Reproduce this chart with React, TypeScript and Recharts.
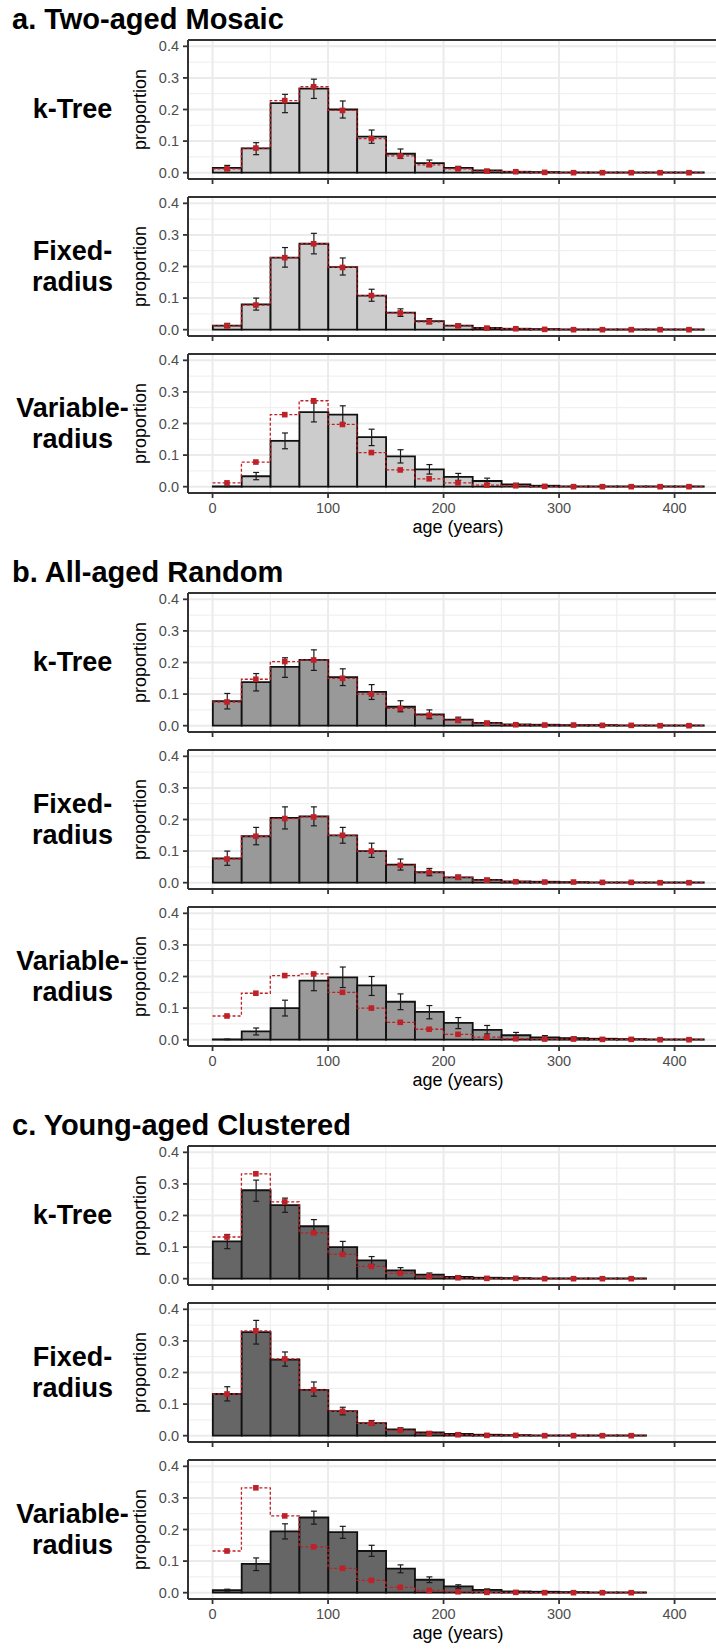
import React from 'react';
import { ComposedChart, Bar, Line, XAxis, YAxis, CartesianGrid, ErrorBar } from 'recharts';

// 25-year age bins
const centresFull = [12.5, 37.5, 62.5, 87.5, 112.5, 137.5, 162.5, 187.5, 212.5, 237.5, 262.5, 287.5, 312.5, 337.5, 362.5, 387.5, 412.5];
const edgesFull = [0, 25, 50, 75, 100, 125, 150, 175, 200, 225, 250, 275, 300, 325, 350, 375, 400, 425];
const centresYoung = [12.5, 37.5, 62.5, 87.5, 112.5, 137.5, 162.5, 187.5, 212.5, 237.5, 262.5, 287.5, 312.5, 337.5, 362.5];
const edgesYoung = [0, 25, 50, 75, 100, 125, 150, 175, 200, 225, 250, 275, 300, 325, 350, 375];

const xTicks = [0, 100, 200, 300, 400];
const xMinor = [50, 150, 250, 350];
const yTicks = [0, 0.1, 0.2, 0.3, 0.4];
const yMinor = [0.05, 0.15, 0.25, 0.35];

const groupTitles = ['a. Two-aged Mosaic', 'b. All-aged Random', 'c. Young-aged Clustered'];
const methodLabels = [['k-Tree'], ['Fixed-', 'radius'], ['Variable-', 'radius']];
const groupFills = ['#CCCCCC', '#999999', '#666666'];

// true stand distributions (red)
const trueTwoAged = [0.012, 0.078, 0.228, 0.272, 0.197, 0.108, 0.053, 0.025, 0.012, 0.005, 0.003, 0.001, 0, 0, 0, 0, 0];
const trueAllAged = [0.075, 0.147, 0.203, 0.208, 0.15, 0.1, 0.055, 0.033, 0.017, 0.008, 0.003, 0.002, 0.002, 0.001, 0.001, 0, 0];
const trueYoung = [0.132, 0.332, 0.243, 0.145, 0.077, 0.039, 0.017, 0.007, 0.003, 0.001, 0.001, 0, 0, 0, 0];

// two-aged mosaic
const twoKTree = [0.015, 0.077, 0.22, 0.266, 0.2, 0.114, 0.06, 0.03, 0.015, 0.007, 0.003, 0.002, 0.001, 0.001, 0.001, 0.001, 0.001];
const twoKTreeLo = [0.007, 0.057, 0.19, 0.235, 0.173, 0.093, 0.045, 0.02, 0.01, 0.004, 0.001, 0.001, 0, 0, 0, 0, 0];
const twoKTreeHi = [0.023, 0.095, 0.248, 0.296, 0.227, 0.135, 0.075, 0.04, 0.02, 0.01, 0.005, 0.003, 0.002, 0.002, 0.002, 0.002, 0.002];
const twoFixed = [0.013, 0.08, 0.228, 0.272, 0.198, 0.108, 0.054, 0.027, 0.013, 0.006, 0.003, 0.002, 0.001, 0.001, 0.001, 0.001, 0.001];
const twoFixedLo = [0.007, 0.062, 0.198, 0.24, 0.173, 0.09, 0.042, 0.019, 0.008, 0.003, 0.001, 0.001, 0, 0, 0, 0, 0];
const twoFixedHi = [0.02, 0.1, 0.26, 0.305, 0.227, 0.128, 0.066, 0.035, 0.018, 0.009, 0.005, 0.003, 0.002, 0.002, 0.002, 0.002, 0.002];
const twoVariable = [0.001, 0.033, 0.145, 0.236, 0.228, 0.157, 0.096, 0.055, 0.031, 0.018, 0.007, 0.003, 0.001, 0.001, 0.001, 0.001, 0.001];
const twoVariableLo = [0, 0.022, 0.12, 0.205, 0.2, 0.13, 0.075, 0.04, 0.02, 0.01, 0.003, 0.001, 0, 0, 0, 0, 0];
const twoVariableHi = [0.002, 0.045, 0.17, 0.265, 0.256, 0.182, 0.117, 0.07, 0.042, 0.027, 0.011, 0.005, 0.002, 0.002, 0.002, 0.002, 0.002];

// all-aged random
const allKTree = [0.078, 0.138, 0.186, 0.208, 0.154, 0.107, 0.06, 0.036, 0.019, 0.009, 0.004, 0.003, 0.002, 0.002, 0.001, 0.001, 0.001];
const allKTreeLo = [0.053, 0.11, 0.153, 0.175, 0.127, 0.083, 0.044, 0.022, 0.01, 0.004, 0.001, 0.001, 0, 0, 0, 0, 0];
const allKTreeHi = [0.102, 0.165, 0.215, 0.24, 0.18, 0.13, 0.079, 0.05, 0.027, 0.014, 0.007, 0.005, 0.004, 0.003, 0.002, 0.002, 0.002];
const allFixed = [0.077, 0.147, 0.205, 0.21, 0.15, 0.1, 0.057, 0.033, 0.017, 0.009, 0.004, 0.003, 0.002, 0.001, 0.001, 0.001, 0.001];
const allFixedLo = [0.055, 0.12, 0.17, 0.18, 0.125, 0.08, 0.04, 0.022, 0.01, 0.004, 0.001, 0.001, 0, 0, 0, 0, 0];
const allFixedHi = [0.1, 0.175, 0.24, 0.24, 0.175, 0.125, 0.075, 0.045, 0.024, 0.014, 0.007, 0.005, 0.003, 0.002, 0.002, 0.002, 0.002];
const allVariable = [0.001, 0.026, 0.1, 0.187, 0.197, 0.172, 0.12, 0.088, 0.053, 0.031, 0.014, 0.007, 0.005, 0.003, 0.002, 0.001, 0.001];
const allVariableLo = [0, 0.015, 0.075, 0.155, 0.165, 0.14, 0.095, 0.066, 0.035, 0.018, 0.007, 0.003, 0.002, 0.001, 0, 0, 0];
const allVariableHi = [0.002, 0.037, 0.125, 0.21, 0.23, 0.2, 0.145, 0.108, 0.07, 0.045, 0.023, 0.013, 0.009, 0.005, 0.004, 0.002, 0.002];

// young-aged clustered
const youngKTree = [0.118, 0.28, 0.233, 0.166, 0.1, 0.058, 0.026, 0.013, 0.006, 0.003, 0.002, 0.001, 0.001, 0.001, 0.001];
const youngKTreeLo = [0.095, 0.245, 0.21, 0.145, 0.078, 0.045, 0.018, 0.008, 0.003, 0.001, 0, 0, 0, 0, 0];
const youngKTreeHi = [0.14, 0.312, 0.255, 0.187, 0.118, 0.07, 0.035, 0.018, 0.009, 0.005, 0.004, 0.002, 0.002, 0.002, 0.002];
const youngFixed = [0.132, 0.328, 0.241, 0.145, 0.078, 0.04, 0.02, 0.01, 0.006, 0.003, 0.002, 0.001, 0.001, 0.001, 0.001];
const youngFixedLo = [0.11, 0.29, 0.22, 0.125, 0.066, 0.033, 0.015, 0.007, 0.003, 0.001, 0.001, 0, 0, 0, 0];
const youngFixedHi = [0.155, 0.365, 0.265, 0.17, 0.09, 0.048, 0.025, 0.013, 0.009, 0.005, 0.003, 0.002, 0.002, 0.002, 0.002];
const youngVariable = [0.008, 0.091, 0.194, 0.238, 0.192, 0.132, 0.076, 0.041, 0.02, 0.009, 0.004, 0.003, 0.002, 0.001, 0.001];
const youngVariableLo = [0.005, 0.07, 0.17, 0.217, 0.172, 0.115, 0.063, 0.032, 0.014, 0.005, 0.002, 0.001, 0.001, 0, 0];
const youngVariableHi = [0.011, 0.11, 0.218, 0.258, 0.21, 0.15, 0.088, 0.05, 0.025, 0.012, 0.006, 0.004, 0.003, 0.002, 0.002];

const groups = [
  {
    centres: centresFull, edges: edgesFull, truth: trueTwoAged,
    panels: [[twoKTree, twoKTreeLo, twoKTreeHi], [twoFixed, twoFixedLo, twoFixedHi], [twoVariable, twoVariableLo, twoVariableHi]],
  },
  {
    centres: centresFull, edges: edgesFull, truth: trueAllAged,
    panels: [[allKTree, allKTreeLo, allKTreeHi], [allFixed, allFixedLo, allFixedHi], [allVariable, allVariableLo, allVariableHi]],
  },
  {
    centres: centresYoung, edges: edgesYoung, truth: trueYoung,
    panels: [[youngKTree, youngKTreeLo, youngKTreeHi], [youngFixed, youngFixedLo, youngFixedHi], [youngVariable, youngVariableLo, youngVariableHi]],
  },
];

const FONT = '"Liberation Sans", Arial, Helvetica, sans-serif';
const RED = '#BE2128';
const CHART_LEFT = 100;
const CHART_W = 640;
const Y_AXIS_W = 88;
const MARGIN_RIGHT = 12;
const PANEL_H = 139;
const TOP_PAD = 6;
const X_DOMAIN: [number, number] = [-21.25, 446.25];
const Y_DOMAIN: [number, number] = [-0.02, 0.42];
const PLOT_W = CHART_W - Y_AXIS_W - MARGIN_RIGHT;
// one 25-year bin in pixels on the shared age axis
const BIN_PX = (25 * PLOT_W) / (X_DOMAIN[1] - X_DOMAIN[0]);

const panelTop = (g: number, p: number) => Math.round(39.5 + 553 * g + 157.3 * p);

// histogram bar centred on the bin centre recharts gives us, spanning the full bin
const HistBar = (props: any) => {
  const { x, y, width, height, fill } = props;
  if (x == null || y == null || width == null) return null;
  const cx = x + width / 2;
  const left = cx - BIN_PX / 2;
  const right = cx + BIN_PX / 2;
  const h = Math.max(0, height || 0);
  const d = `M${left},${y + h}V${y}H${right}V${y + h}Z`;
  return <path d={d} fill={fill} stroke="#111111" strokeWidth={1.8} />;
};

const SquareDot = (props: any) => {
  const { cx, cy, index } = props;
  if (cx == null || cy == null) return <g key={index} />;
  return <rect key={index} x={cx - 2.8} y={cy - 2.8} width={5.6} height={5.6} fill={RED} />;
};

interface PanelProps {
  top: number;
  values: number[];
  lo: number[];
  hi: number[];
  centres: number[];
  edges: number[];
  truth: number[];
  fill: string;
  last: boolean;
}

const Panel: React.FC<PanelProps> = ({ top, values, lo, hi, centres, edges, truth, fill, last }) => {
  const bars = centres.map((x, i) => ({ x, v: values[i], e: [values[i] - lo[i], hi[i] - values[i]] }));
  const step = edges.map((x, i) => ({ x, r: truth[Math.min(i, truth.length - 1)] }));
  const pts = centres.map((x, i) => ({ x, r: truth[i] }));
  const axisH = last ? 48 : 10;

  return (
    <div style={{ position: 'absolute', left: CHART_LEFT, top: top - TOP_PAD }}>
      <ComposedChart
        width={CHART_W}
        height={TOP_PAD + PANEL_H + axisH}
        data={bars}
        margin={{ top: 0, right: MARGIN_RIGHT, bottom: 0, left: 0 }}
      >
        <CartesianGrid horizontalValues={yMinor} verticalValues={xMinor} stroke="#EDEDED" strokeWidth={1} />
        <CartesianGrid horizontalValues={yTicks} verticalValues={xTicks} stroke="#EBEBEB" strokeWidth={2} />
        <XAxis
          xAxisId="top"
          orientation="top"
          dataKey="x"
          type="number"
          domain={X_DOMAIN}
          allowDataOverflow
          height={TOP_PAD}
          tick={false}
          tickLine={false}
          axisLine={{ stroke: '#333333', strokeWidth: 2 }}
        />
        <XAxis
          dataKey="x"
          type="number"
          domain={X_DOMAIN}
          allowDataOverflow
          ticks={xTicks}
          interval={0}
          height={axisH}
          tickSize={5}
          tickMargin={5}
          axisLine={{ stroke: '#333333', strokeWidth: 2 }}
          tickLine={{ stroke: '#333333', strokeWidth: 1.8 }}
          tick={{ fill: '#4D4D4D', fontSize: 14.5 }}
          tickFormatter={last ? (v: number) => String(v) : () => ''}
          label={last ? { value: 'age (years)', position: 'insideBottom', offset: 8, fill: '#000000', fontSize: 18 } : undefined}
        />
        <YAxis
          type="number"
          domain={Y_DOMAIN}
          allowDataOverflow
          ticks={yTicks}
          interval={0}
          width={Y_AXIS_W}
          tickSize={5}
          tickMargin={4}
          axisLine={{ stroke: '#333333', strokeWidth: 2 }}
          tickLine={{ stroke: '#333333', strokeWidth: 1.8 }}
          tick={{ fill: '#4D4D4D', fontSize: 14.5 }}
          tickFormatter={(v: number) => v.toFixed(1)}
          label={{ value: 'proportion', angle: -90, position: 'insideLeft', offset: 40, fill: '#000000', fontSize: 18, style: { textAnchor: 'middle' } }}
        />
        <Bar dataKey="v" fill={fill} barSize={BIN_PX} shape={HistBar} isAnimationActive={false}>
          <ErrorBar dataKey="e" width={3} stroke="#1A1A1A" strokeWidth={1.2} direction="y" />
        </Bar>
        <Line data={step} dataKey="r" type="stepAfter" stroke={RED} strokeWidth={1.3} strokeDasharray="3 2" dot={false} activeDot={false} isAnimationActive={false} />
        <Line data={pts} dataKey="r" stroke="none" dot={SquareDot} activeDot={false} isAnimationActive={false} />
      </ComposedChart>
    </div>
  );
};

const App: React.FC = () => {
  return (
    <div
      style={{
        position: 'absolute', left: 0, top: 0, width: 716, height: 1649,
        overflow: 'hidden', background: '#FFFFFF', fontFamily: FONT, color: '#000000',
      }}
    >
      {groups.map((grp, g) => (
        <React.Fragment key={g}>
          <div
            style={{
              position: 'absolute', left: 12, top: 553 * g + 5, fontSize: 29, fontWeight: 'bold',
              lineHeight: '29px', whiteSpace: 'nowrap',
            }}
          >
            {groupTitles[g]}
          </div>
          {grp.panels.map(([values, lo, hi], p) => (
            <React.Fragment key={p}>
              <div
                style={{
                  position: 'absolute', left: 0, width: 145, top: panelTop(g, p), height: PANEL_H,
                  display: 'flex', flexDirection: 'column', justifyContent: 'center', alignItems: 'center',
                  fontSize: 27, fontWeight: 'bold', lineHeight: '31px', textAlign: 'center',
                }}
              >
                {methodLabels[p].map((line) => (
                  <div key={line}>{line}</div>
                ))}
              </div>
              <Panel
                top={panelTop(g, p)}
                values={values}
                lo={lo}
                hi={hi}
                centres={grp.centres}
                edges={grp.edges}
                truth={grp.truth}
                fill={groupFills[g]}
                last={p === 2}
              />
            </React.Fragment>
          ))}
        </React.Fragment>
      ))}
    </div>
  );
};

export default App;
